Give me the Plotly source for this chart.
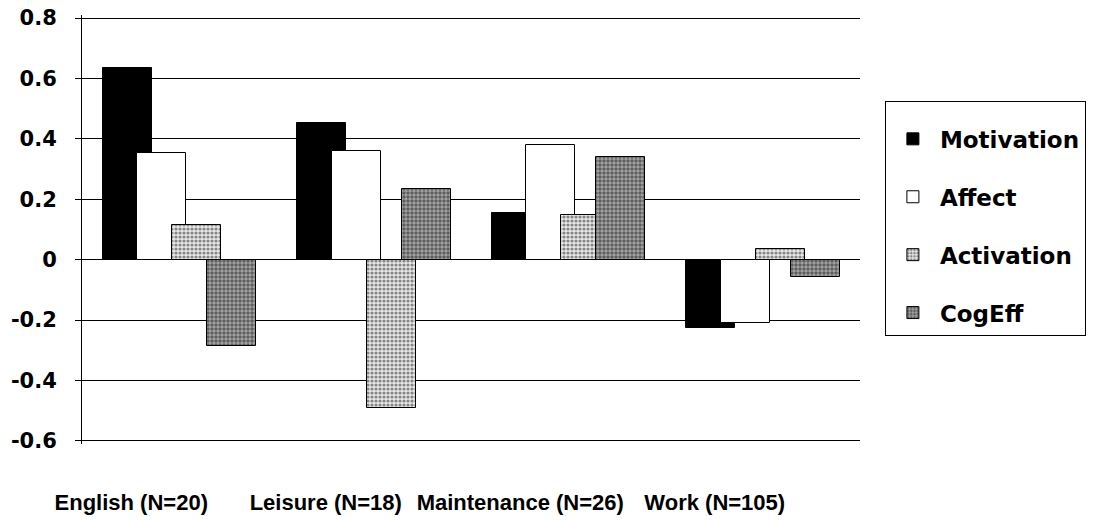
import plotly.graph_objects as go

categories = ["English (N=20)", "Leisure (N=18)", "Maintenance (N=26)", "Work (N=105)"]
motivation = [0.635, 0.453, 0.155, -0.225]
affect = [0.354, 0.36, 0.38, -0.21]
activation = [0.116, -0.49, 0.149, 0.035]
cogeff = [-0.285, 0.235, 0.34, -0.057]
y_ticks = [0.8, 0.6, 0.4, 0.2, 0, -0.2, -0.4, -0.6]
y_ticktext = ["0.8", "0.6", "0.4", "0.2", "0", "-0.2", "-0.4", "-0.6"]

series = [
    ("Motivation", motivation, dict(color="black", line=dict(color="black", width=1))),
    ("Affect", affect, dict(color="white", line=dict(color="black", width=1))),
    ("Activation", activation, dict(color="#9a9a9a", line=dict(color="black", width=1),
                                    pattern=dict(shape=".", fgcolor="#222", bgcolor="#e8e8e8", size=4, solidity=0.5))),
    ("CogEff", cogeff, dict(color="#555", line=dict(color="black", width=1),
                            pattern=dict(shape=".", fgcolor="#111", bgcolor="#a8a8a8", size=4, solidity=0.6))),
]
offsets = [-0.394, -0.216, -0.035, 0.145]

fig = go.Figure()
for (name, vals, marker), off in zip(series, offsets):
    fig.add_trace(go.Bar(x=categories, y=vals, name=name, marker=marker,
                         width=0.252, offset=off, legendgroup=name))

fig.update_layout(
    width=1101, height=521,
    margin=dict(l=82, r=241, t=15, b=77, autoexpand=False),
    barmode="overlay",
    plot_bgcolor="white", paper_bgcolor="white",
    showlegend=True,
    legend=dict(x=1.032, y=0.800, xanchor="left", yanchor="top",
                bordercolor="black", borderwidth=1, bgcolor="white",
                title=dict(text=" ", font=dict(size=12)),
                font=dict(family="DejaVu Sans", size=23, color="black", weight="bold"),
                tracegroupgap=25, itemwidth=44, traceorder="grouped"),
    xaxis=dict(range=[-0.5, 3.5], showgrid=False, showline=False, ticks="",
               automargin=False,
               tickfont=dict(family="Liberation Sans", size=22, color="black", weight="bold"),
               ticklabelstandoff=43, ticklabelshift=-48),
    yaxis=dict(range=[-0.61, 0.81], tickvals=y_ticks, ticktext=y_ticktext,
               automargin=False, ticklabeloverflow="allow",
               showgrid=True, gridcolor="black", gridwidth=1,
               zeroline=True, zerolinecolor="black", zerolinewidth=1,
               showline=True, linecolor="black", linewidth=1,
               ticks="outside", ticklen=6, tickcolor="black",
               ticklabelstandoff=14,
               tickfont=dict(family="DejaVu Sans", size=21, color="black", weight="bold")),
    bargap=0,
)

fig.write_html("out.html", config={"displayModeBar": False},
               post_script="document.body.style.margin='0';")
